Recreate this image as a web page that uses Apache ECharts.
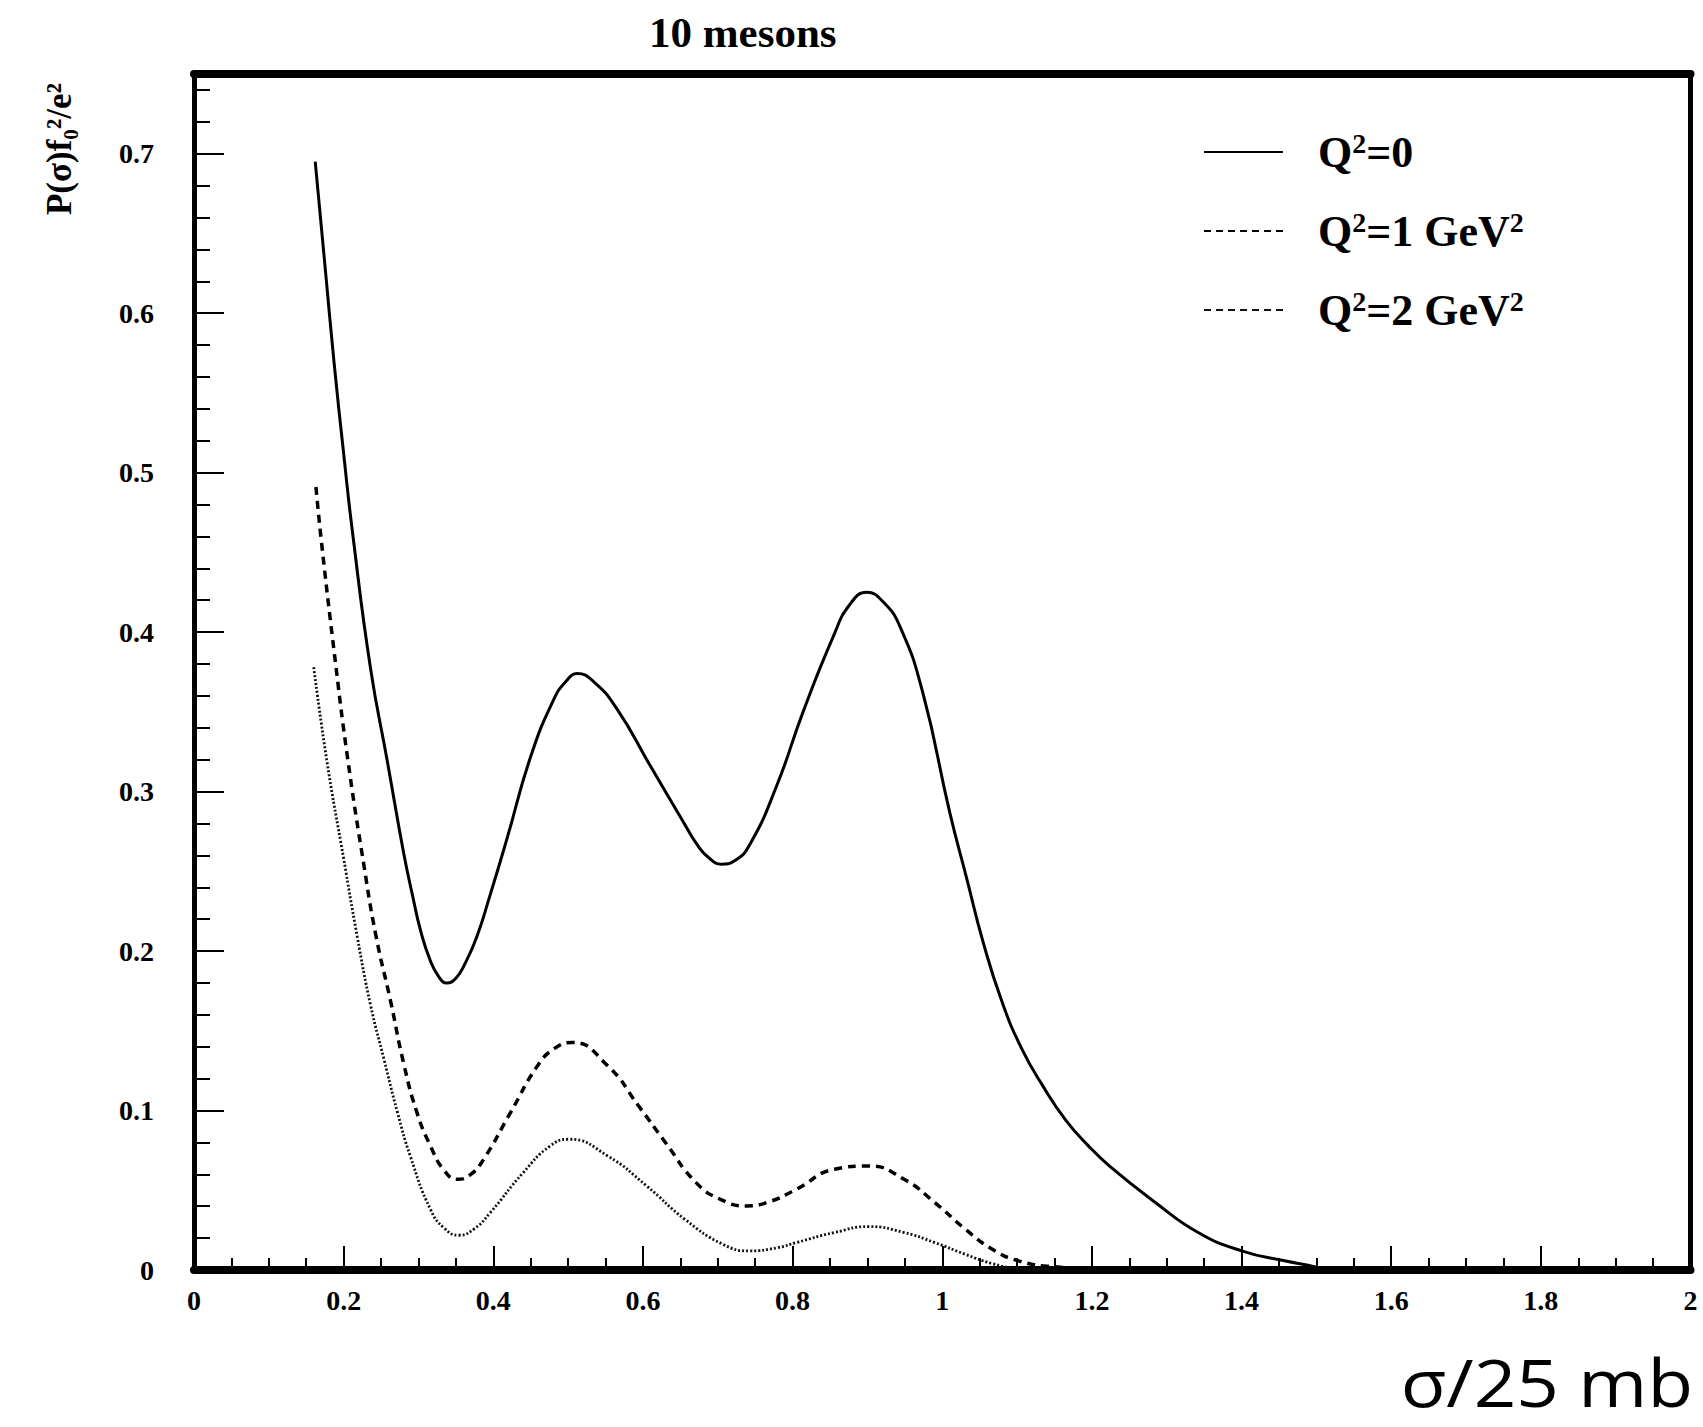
<!DOCTYPE html>
<html><head><meta charset="utf-8">
<script src="https://cdn.jsdelivr.net/npm/echarts@6/dist/echarts.min.js"></script>
<style>html,body{margin:0;padding:0;background:#fff}#c{width:1703px;height:1427px}</style>
</head><body><div id="c"></div>
<script>
const titleText = '10 mesons';
const yAxisTitle = 'P(σ)f₀²/e²';
const xAxisTitle = 'σ/25 mb';
const seriesNames = ['Q²=0', 'Q²=1 GeV²', 'Q²=2 GeV²'];

// Q^2 = 0 (solid)
const q0X = [0.162,0.175,0.187,0.200,0.212,0.236,0.258,0.280,0.292,0.303,0.315,0.327,0.338,0.350,0.362,0.378,0.395,0.418,0.450,0.481,0.497,0.512,0.534,0.565,0.610,0.654,0.672,0.688,0.705,0.722,0.743,0.779,0.814,0.855,0.876,0.899,0.921,0.944,0.974,1.010,1.033,1.055,1.080,1.106,1.135,1.165,1.195,1.224,1.283,1.342,1.400,1.459,1.489,1.505];
const q0Y = [0.695,0.630,0.570,0.512,0.462,0.377,0.320,0.262,0.235,0.2125,0.195,0.184,0.180,0.183,0.192,0.209,0.234,0.270,0.322,0.358,0.369,0.374,0.369,0.352,0.316,0.281,0.267,0.2585,0.2545,0.2565,0.267,0.304,0.350,0.398,0.417,0.425,0.419,0.403,0.362,0.287,0.245,0.205,0.168,0.139,0.115,0.094,0.078,0.065,0.043,0.0235,0.012,0.0056,0.003,0.001];

// Q^2 = 1 GeV^2 (dashed)
const q1X = [0.163,0.170,0.187,0.205,0.227,0.243,0.263,0.280,0.298,0.316,0.335,0.352,0.370,0.387,0.423,0.459,0.482,0.505,0.553,0.594,0.630,0.671,0.705,0.738,0.770,0.805,0.856,0.902,0.949,0.990,1.031,1.067,1.103,1.150,1.200,1.300,1.350];
const q1Y = [0.491,0.458,0.389,0.322,0.254,0.210,0.168,0.130,0.0987,0.0778,0.062,0.0569,0.060,0.0694,0.0987,0.128,0.139,0.1427,0.128,0.103,0.080,0.0548,0.044,0.0402,0.043,0.0506,0.0632,0.0652,0.0569,0.0423,0.0255,0.013,0.0056,0.002,0.001,0.001,0.0];

// Q^2 = 2 GeV^2 (dotted)
const q2X = [0.160,0.178,0.200,0.218,0.236,0.254,0.272,0.289,0.316,0.335,0.354,0.375,0.396,0.440,0.476,0.501,0.553,0.605,0.656,0.707,0.743,0.780,0.805,0.856,0.902,0.949,0.990,1.031,1.067,1.100,1.150];
const q2Y = [0.378,0.318,0.258,0.2095,0.166,0.132,0.0987,0.0715,0.038,0.026,0.0218,0.026,0.036,0.0611,0.0778,0.082,0.0715,0.0527,0.0318,0.0161,0.012,0.014,0.0172,0.0235,0.0272,0.0235,0.0172,0.0098,0.004,0.001,0.0];

const yMajorTicks = [0, 0.1, 0.2, 0.3, 0.4, 0.5, 0.6, 0.7];
const yMinorTicks = [0.02,0.04,0.06,0.08,0.12,0.14,0.16,0.18,0.22,0.24,0.26,0.28,0.32,0.34,0.36,0.38,0.42,0.44,0.46,0.48,0.52,0.54,0.56,0.58,0.62,0.64,0.66,0.68,0.72,0.74];

const pairs = (xs, ys) => xs.map((x, i) => [x, ys[i]]);
const serif = '"Liberation Serif", "Times New Roman", serif';
const tickFont = {fontFamily: serif, fontWeight: 'bold', fontSize: 28, color: '#000'};

const chart = echarts.init(document.getElementById('c'), null, {renderer: 'svg'});
chart.setOption({
  backgroundColor: '#fff',
  animation: false,
  title: {
    text: titleText, left: 644, top: 6,
    textStyle: {fontFamily: serif, fontWeight: 'bold', fontSize: 43, color: '#000'}
  },
  legend: {
    orient: 'vertical', left: 1198, top: 124,
    itemWidth: 79, itemHeight: 2, itemGap: 33,
    selectedMode: false,
    lineStyle: {width: 2},
    itemStyle: {color: 'rgba(0,0,0,0)', borderWidth: 0, opacity: 0},
    formatter: n => n.replace(/²/g, '{s|2}'),
    textStyle: {
      fontFamily: serif, fontWeight: 'bold', fontSize: 44, lineHeight: 46, color: '#000', padding: [0, 0, 0, 30],
      rich: {s: {fontFamily: serif, fontWeight: 'bold', fontSize: 28, lineHeight: 46, verticalAlign: 'top', color: '#000', padding: [0, 0, 10, 0]}}
    },
    data: [
      {name: seriesNames[0], lineStyle: {type: 'solid', width: 2}},
      {name: seriesNames[1], lineStyle: {type: [7, 5], width: 2}},
      {name: seriesNames[2], lineStyle: {type: [7, 5], width: 2}}
    ]
  },
  grid: {left: 194, right: 12.5, top: 74, bottom: 157, show: false},
  xAxis: [
    {
      type: 'value', min: 0, max: 2, interval: 0.2, position: 'bottom',
      axisLine: {show: true, onZero: false, lineStyle: {color: '#000', width: 8}},
      axisTick: {show: true, inside: true, length: 24, lineStyle: {color: '#000', width: 2}},
      minorTick: {show: true, splitNumber: 4, length: 12, lineStyle: {color: '#000', width: 2}},
      splitLine: {show: false}, minorSplitLine: {show: false},
      axisLabel: Object.assign({margin: 16}, tickFont)
    },
    {
      type: 'value', min: 0, max: 2, position: 'top',
      axisLine: {show: true, onZero: false, lineStyle: {color: '#000', width: 8}},
      axisTick: {show: false}, axisLabel: {show: false}, splitLine: {show: false}
    }
  ],
  yAxis: [
    {
      type: 'value', min: 0, max: 0.75, position: 'left',
      axisLine: {show: true, onZero: false, lineStyle: {color: '#000', width: 5}},
      axisTick: {show: true, inside: true, length: 30, customValues: yMajorTicks, lineStyle: {color: '#000', width: 2}},
      axisLabel: Object.assign({margin: 40, customValues: yMajorTicks}, tickFont),
      splitLine: {show: false}
    },
    {
      type: 'value', min: 0, max: 0.75, position: 'left', offset: 0,
      axisLine: {show: false},
      axisTick: {show: true, inside: true, length: 16, customValues: yMinorTicks, lineStyle: {color: '#000', width: 2}},
      axisLabel: {show: false}, splitLine: {show: false}
    },
    {
      type: 'value', min: 0, max: 0.75, position: 'right',
      axisLine: {show: true, onZero: false, lineStyle: {color: '#000', width: 5}},
      axisTick: {show: false}, axisLabel: {show: false}, splitLine: {show: false}
    }
  ],
  graphic: [
    {
      type: 'text', x: 59, y: 149, rotation: Math.PI / 2,
      style: {text: yAxisTitle, fontFamily: serif, fontWeight: 'bold', fontSize: 35, fill: '#000', align: 'center', verticalAlign: 'middle'}
    },
    {
      type: 'text', x: 1693, y: 1382, scaleX: 1.13,
      style: {text: xAxisTitle, fontFamily: '"Open Sans", "DejaVu Sans", sans-serif', fontSize: 66, lineHeight: 66, fill: '#000', align: 'right', verticalAlign: 'middle'}
    }
  ],
  series: [
    {
      name: seriesNames[0], type: 'line', symbol: 'none', smooth: 0.5,
      lineStyle: {color: '#000', width: 3, type: 'solid'},
      itemStyle: {color: '#000'},
      data: pairs(q0X, q0Y)
    },
    {
      name: seriesNames[1], type: 'line', symbol: 'none', smooth: 0.5,
      lineStyle: {color: '#000', width: 3.5, type: [8, 6]},
      itemStyle: {color: '#000'},
      data: pairs(q1X, q1Y)
    },
    {
      name: seriesNames[2], type: 'line', symbol: 'none', smooth: 0.5,
      lineStyle: {color: '#111', width: 2.8, type: [2, 2]},
      itemStyle: {color: '#000'},
      data: pairs(q2X, q2Y)
    }
  ]
});
</script>
</body></html>
